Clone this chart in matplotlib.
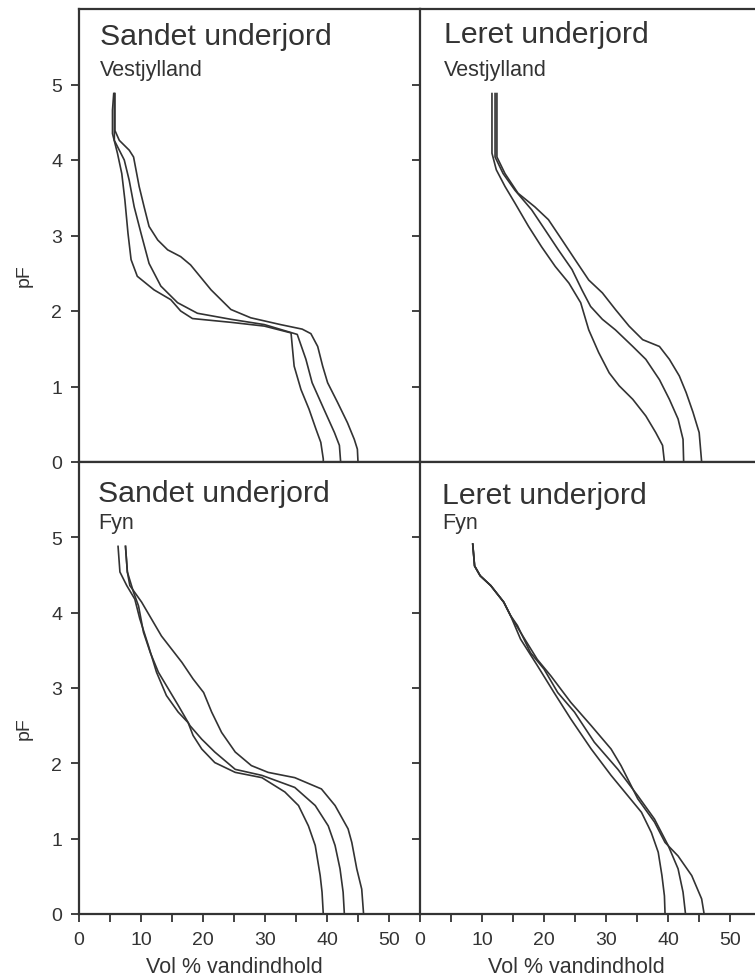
import matplotlib.pyplot as plt
import matplotlib as mpl

mpl.rcParams['font.family'] = ['Liberation Sans', 'DejaVu Sans']

# Sandet underjord, Vestjylland (3 kurver)
sv_x1 = [5.6, 5.4, 5.4, 6.2, 6.9, 7.4, 7.9, 8.4, 9.4, 12.1, 14.8, 16.4, 18.3, 24.5, 29.9, 34.2, 34.4, 34.7, 35.8, 37.1, 38.2, 39.0, 39.4, 39.4]
sv_y1 = [4.88, 4.66, 4.35, 4.09, 3.82, 3.47, 3.03, 2.68, 2.46, 2.28, 2.15, 2.0, 1.90, 1.85, 1.80, 1.71, 1.53, 1.27, 0.96, 0.70, 0.44, 0.26, 0.04, 0.0]
sv_x2 = [5.7, 5.7, 7.3, 8.1, 8.9, 10.0, 11.3, 13.2, 15.9, 19.1, 24.5, 29.9, 35.2, 36.6, 37.6, 39.5, 41.2, 42.0, 42.2]
sv_y2 = [4.88, 4.26, 4.0, 3.73, 3.38, 3.03, 2.63, 2.33, 2.11, 1.97, 1.89, 1.82, 1.69, 1.36, 1.05, 0.70, 0.39, 0.22, 0.0]
sv_x3 = [5.8, 5.8, 6.5, 8.1, 8.8, 9.7, 10.5, 11.3, 12.7, 14.3, 16.4, 18.0, 19.1, 21.3, 24.5, 27.7, 32.5, 36.0, 37.4, 38.5, 39.3, 40.1, 41.7, 43.3, 44.4, 44.9, 45.0]
sv_y3 = [4.88, 4.39, 4.26, 4.13, 4.04, 3.65, 3.38, 3.12, 2.94, 2.81, 2.72, 2.61, 2.50, 2.28, 2.02, 1.91, 1.82, 1.76, 1.70, 1.53, 1.27, 1.05, 0.79, 0.52, 0.30, 0.17, 0.0]

# Leret underjord, Vestjylland
lv_x1 = [11.6, 11.6, 12.3, 13.7, 15.3, 17.5, 19.6, 21.8, 24.0, 25.9, 27.2, 28.8, 30.5, 32.1, 34.3, 36.4, 38.0, 39.1, 39.4]
lv_y1 = [4.88, 4.09, 3.87, 3.65, 3.43, 3.12, 2.85, 2.59, 2.37, 2.11, 1.75, 1.45, 1.18, 1.01, 0.83, 0.61, 0.39, 0.22, 0.0]
lv_x2 = [12.1, 12.1, 13.4, 15.3, 18.0, 20.2, 22.3, 24.5, 26.1, 27.5, 29.4, 31.5, 34.3, 36.4, 38.6, 40.2, 41.6, 42.4, 42.5]
lv_y2 = [4.88, 4.04, 3.82, 3.60, 3.34, 3.07, 2.81, 2.55, 2.28, 2.06, 1.89, 1.75, 1.53, 1.36, 1.09, 0.83, 0.57, 0.30, 0.0]
lv_x3 = [12.4, 12.4, 13.7, 15.8, 18.5, 20.7, 22.9, 25.0, 27.2, 29.4, 31.5, 33.7, 35.9, 38.6, 40.2, 41.8, 42.9, 44.0, 45.0, 45.4]
lv_y3 = [4.88, 4.04, 3.82, 3.56, 3.38, 3.21, 2.94, 2.68, 2.41, 2.24, 2.02, 1.80, 1.62, 1.53, 1.36, 1.14, 0.92, 0.66, 0.39, 0.0]

# Sandet underjord, Fyn
sf_x1 = [6.3, 6.6, 7.7, 9.0, 9.8, 11.2, 12.5, 14.1, 16.0, 17.6, 18.4, 19.8, 21.9, 25.2, 29.5, 33.2, 35.4, 37.0, 38.1, 38.9, 39.2, 39.4]
sf_y1 = [4.88, 4.54, 4.36, 4.18, 3.92, 3.56, 3.21, 2.90, 2.68, 2.54, 2.37, 2.19, 2.01, 1.88, 1.81, 1.62, 1.44, 1.17, 0.91, 0.51, 0.29, 0.0]
sf_x2 = [7.5, 7.8, 8.8, 9.6, 10.4, 11.5, 12.8, 14.4, 16.0, 17.9, 19.8, 21.9, 25.2, 29.5, 34.8, 38.1, 40.2, 41.3, 42.1, 42.6, 42.8]
sf_y2 = [4.88, 4.54, 4.27, 4.09, 3.74, 3.47, 3.21, 2.99, 2.77, 2.50, 2.32, 2.15, 1.92, 1.84, 1.68, 1.44, 1.17, 0.91, 0.60, 0.29, 0.0]
sf_x3 = [7.5, 7.8, 8.2, 10.1, 13.3, 16.6, 18.4, 20.1, 21.4, 23.0, 25.2, 27.8, 30.5, 34.8, 39.1, 41.3, 43.4, 44.0, 44.8, 45.6, 45.9]
sf_y3 = [4.88, 4.54, 4.36, 4.14, 3.69, 3.34, 3.12, 2.94, 2.68, 2.41, 2.15, 1.97, 1.88, 1.81, 1.66, 1.44, 1.13, 0.95, 0.60, 0.33, 0.0]

# Leret underjord, Fyn
lf_x1 = [8.5, 8.8, 9.7, 11.4, 13.5, 14.6, 16.2, 18.9, 21.6, 24.3, 27.6, 30.8, 33.5, 35.7, 37.3, 38.4, 39.0, 39.4, 39.5]
lf_y1 = [4.91, 4.62, 4.49, 4.36, 4.14, 3.96, 3.65, 3.30, 2.94, 2.59, 2.19, 1.84, 1.57, 1.35, 1.08, 0.82, 0.51, 0.24, 0.0]
lf_x2 = [8.5, 8.8, 9.7, 11.4, 13.5, 14.6, 15.7, 17.8, 20.0, 22.2, 24.9, 28.1, 31.9, 35.1, 37.8, 40.0, 41.6, 42.4, 42.8]
lf_y2 = [4.91, 4.62, 4.49, 4.36, 4.14, 3.96, 3.83, 3.47, 3.25, 2.94, 2.68, 2.28, 1.92, 1.57, 1.26, 0.91, 0.60, 0.29, 0.0]
lf_x3 = [8.5, 8.8, 9.7, 11.4, 13.5, 14.6, 16.2, 18.9, 21.1, 24.3, 27.6, 30.8, 32.4, 35.1, 37.8, 39.5, 41.6, 43.8, 45.4, 45.8]
lf_y3 = [4.91, 4.62, 4.49, 4.36, 4.14, 3.96, 3.74, 3.38, 3.16, 2.81, 2.50, 2.19, 1.97, 1.53, 1.22, 0.95, 0.77, 0.51, 0.20, 0.0]

x_ticks = [0, 10, 20, 30, 40, 50]
y_ticks = [0, 1, 2, 3, 4, 5]

ink = '#333333'
W, H = 755, 979

fig = plt.figure(figsize=(W / 100, H / 100), dpi=100)

# akser placeret i pixel
def make_ax(left, top, right, bottom, xmax):
    ax = fig.add_axes([left / W, 1 - bottom / H, (right - left) / W, (bottom - top) / H])
    ax.set_xlim(0, xmax)
    ax.set_ylim(0, 6)
    for s in ax.spines.values():
        s.set_linewidth(1.6)
        s.set_color(ink)
    ax.spines['right'].set_visible(False)
    ax.set_xticks(x_ticks)
    ax.set_xticks(range(5, 55, 10), minor=True)
    ax.set_yticks(y_ticks)
    ax.tick_params(axis='both', which='both', direction='out', length=6, width=1.3,
                   color=ink, labelcolor=ink, labelsize=14, pad=6)
    return ax

ax_sv = make_ax(79, 10, 420, 463, 55.0)
ax_lv = make_ax(420, 10, 755, 463, 54.0)
ax_sf = make_ax(79, 463, 420, 915, 55.0)
ax_lf = make_ax(420, 463, 755, 915, 54.0)

panels = [
    (ax_sv, [(sv_x1, sv_y1), (sv_x2, sv_y2), (sv_x3, sv_y3)], 'Sandet underjord', 'Vestjylland', 3.4, 5.54, 5.13),
    (ax_lv, [(lv_x1, lv_y1), (lv_x2, lv_y2), (lv_x3, lv_y3)], 'Leret underjord', 'Vestjylland', 3.9, 5.56, 5.13),
    (ax_sf, [(sf_x1, sf_y1), (sf_x2, sf_y2), (sf_x3, sf_y3)], 'Sandet underjord', 'Fyn', 3.1, 5.48, 5.13),
    (ax_lf, [(lf_x1, lf_y1), (lf_x2, lf_y2), (lf_x3, lf_y3)], 'Leret underjord', 'Fyn', 3.6, 5.46, 5.12),
]

for ax, curves, title, region, tx, ty1, ty2 in panels:
    for cx, cy in curves:
        ax.plot(cx, cy, color=ink, linewidth=1.2, solid_joinstyle='round')
    ax.text(tx, ty1, title, fontsize=21.8, color=ink, va='baseline', ha='left')
    ax.text(tx, ty2, region, fontsize=15.5, color=ink, va='baseline', ha='left')

# kun bund-akserne har x-labels, kun venstre har y-labels
for ax in [ax_sv, ax_lv]:
    ax.tick_params(axis='x', labelbottom=False)
for ax in [ax_lv, ax_lf]:
    ax.tick_params(axis='y', labelleft=False)

for ax in [ax_sv, ax_sf]:
    ax.set_ylabel('pF', fontsize=14, color=ink)
    ax.yaxis.set_label_coords(-0.135, 0.413)

ax_sf.set_xlabel('Vol % vandindhold', fontsize=15.5, color=ink)
ax_sf.xaxis.set_label_coords(0.456, -0.093)
ax_lf.set_xlabel('Vol % vandindhold', fontsize=15.5, color=ink)
ax_lf.xaxis.set_label_coords(0.467, -0.093)

fig.savefig('out.png', dpi=100)
